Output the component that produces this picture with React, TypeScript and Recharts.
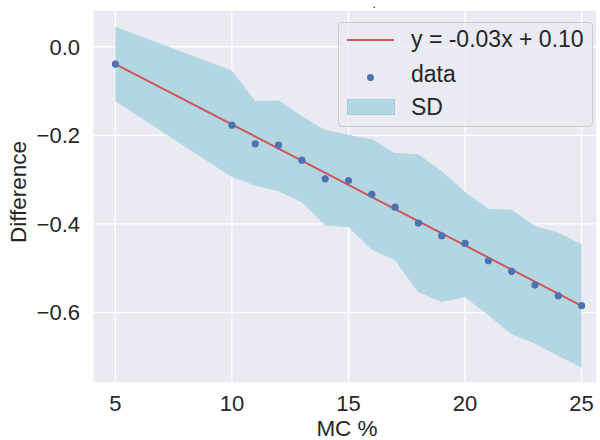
import { ComposedChart, Area, Line, Scatter, XAxis, YAxis, CartesianGrid, Label } from "recharts"

const mcPercent = [5, 10, 11, 12, 13, 14, 15, 16, 17, 18, 19, 20, 21, 22, 23, 24, 25]
const difference = [-0.039, -0.177, -0.219, -0.222, -0.256, -0.298, -0.302, -0.333, -0.362, -0.398, -0.427, -0.444, -0.483, -0.507, -0.538, -0.562, -0.584]
const sdUpper = [0.044, -0.055, -0.124, -0.122, -0.158, -0.189, -0.2, -0.21, -0.241, -0.244, -0.282, -0.329, -0.367, -0.369, -0.406, -0.421, -0.447]
const sdLower = [-0.122, -0.293, -0.312, -0.325, -0.35, -0.402, -0.406, -0.457, -0.481, -0.553, -0.575, -0.564, -0.605, -0.648, -0.669, -0.697, -0.723]
const fitX = [5, 25]
const fitY = [-0.039, -0.585]
const xTicks = [5, 10, 15, 20, 25]
const yTicks = [0, -0.2, -0.4, -0.6]

const rows = mcPercent.map((x, i) => ({ x, y: difference[i], lo: sdLower[i], hi: sdUpper[i] }))
const fitRows = fitX.map((x, i) => ({ x, fit: fitY[i] }))

const FONT = "'Liberation Sans', Arial, sans-serif"
const TEXT = "#262626"
const BAND = "#B3D6E3"
const RED = "#CF5659"
const BLUE = "#4C72B0"

const fmtY = (v: number) => (v < 0 ? "\u2212" + Math.abs(v).toFixed(1) : v.toFixed(1))

export default function App() {
  return (
    <div style={{ position: "absolute", left: 0, top: 0, width: 600, height: 440, background: "#fff", fontFamily: FONT }}>
      <ComposedChart width={600} height={440} data={rows} margin={{ top: 10, right: 3, left: 0, bottom: 0 }}>
        <CartesianGrid fill="#EAEAF2" stroke="#fff" strokeWidth={1.3} />
        <XAxis
          dataKey="x"
          type="number"
          domain={[4.04, 25.66]}
          ticks={xTicks}
          allowDataOverflow
          axisLine={false}
          tickLine={false}
          tickMargin={6}
          height={57}
          tick={{ fill: TEXT, fontSize: 22, fontFamily: FONT }}
        >
          <Label
            content={() => (
              <text x={347} y={436} textAnchor="middle" fill={TEXT} fontSize={22.5} fontFamily={FONT}>
                MC %
              </text>
            )}
          />
        </XAxis>
        <YAxis
          type="number"
          domain={[-0.759, 0.083]}
          ticks={yTicks}
          allowDataOverflow
          axisLine={false}
          tickLine={false}
          tickMargin={7}
          width={93}
          tickFormatter={fmtY}
          tick={{ fill: TEXT, fontSize: 22, fontFamily: FONT }}
        >
          <Label
            content={() => (
              <text
                x={26}
                y={192}
                transform="rotate(-90 26 192)"
                textAnchor="middle"
                fill={TEXT}
                fontSize={22.5}
                fontFamily={FONT}
              >
                Difference
              </text>
            )}
          />
        </YAxis>
        <Area
          type="linear"
          dataKey={(d: any) => [d.lo, d.hi]}
          fill={BAND}
          fillOpacity={1}
          stroke={BAND}
          strokeWidth={1}
          isAnimationActive={false}
        />
        <Line data={fitRows} dataKey="fit" type="linear" stroke={RED} strokeWidth={2} dot={false} isAnimationActive={false} />
        <Scatter dataKey="y" fill={BLUE} isAnimationActive={false} shape={(p: any) => <circle cx={p.cx} cy={p.cy} r={3.6} fill={BLUE} />} />
      </ComposedChart>

      <div style={{ position: "absolute", left: 373, top: 0, fontSize: 9, fontWeight: 700, color: TEXT }}>.</div>

      <div
        style={{
          position: "absolute",
          left: 338,
          top: 22,
          width: 255,
          height: 105,
          boxSizing: "border-box",
          border: "1px solid #CCCCCC",
          borderRadius: 4,
          background: "rgba(234,234,242,0.8)",
          color: TEXT,
          fontSize: 23,
        }}
      >
        <div style={{ position: "absolute", left: 8, top: 16, width: 47, height: 2, background: RED }} />
        <div style={{ position: "absolute", left: 72, top: 3, lineHeight: "26px", whiteSpace: "nowrap" }}>y = -0.03x + 0.10</div>
        <div style={{ position: "absolute", left: 28, top: 51, width: 7, height: 7, borderRadius: "50%", background: BLUE }} />
        <div style={{ position: "absolute", left: 72, top: 38, lineHeight: "26px" }}>data</div>
        <div
          style={{
            position: "absolute",
            left: 8,
            top: 76,
            width: 48,
            height: 16,
            boxSizing: "border-box",
            background: BAND,
            border: "1px solid #A3CCDD",
          }}
        />
        <div style={{ position: "absolute", left: 72, top: 71, lineHeight: "26px" }}>SD</div>
      </div>
    </div>
  )
}
